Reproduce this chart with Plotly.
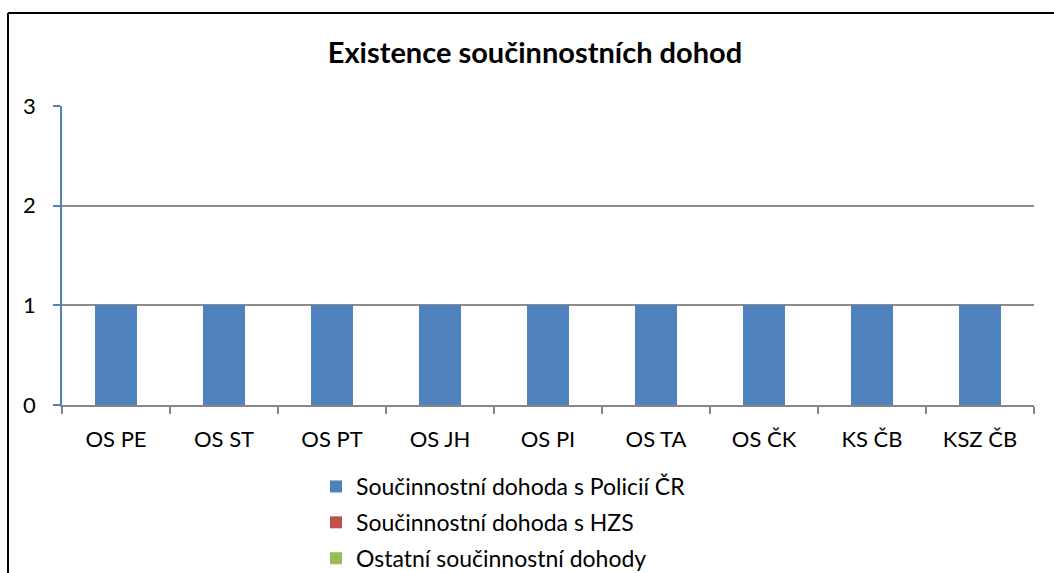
import plotly.graph_objects as go

categories = ["OS PE", "OS ST", "OS PT", "OS JH", "OS PI", "OS TA", "OS ČK", "KS ČB", "KSZ ČB"]
policie = [1, 1, 1, 1, 1, 1, 1, 1, 1]
hzs = [0, 0, 0, 0, 0, 0, 0, 0, 0]
ostatni = [0, 0, 0, 0, 0, 0, 0, 0, 0]
series_names = ["Součinnostní dohoda s Policií ČR", "Součinnostní dohoda s HZS", "Ostatní součinnostní dohody"]
colors = ["#4F81BD", "#C0504D", "#9BBB59"]
y_ticks = [0, 1, 2, 3]

FONT = "Lato"
W, H = 1054, 573
L, R, T, B = 62, 20, 106, 168
pw = W - L - R
ph = H - T - B

fig = go.Figure()
for i, (name, vals) in enumerate(zip(series_names, [policie, hzs, ostatni])):
    fig.add_trace(go.Bar(
        x=categories, y=vals, name=name, width=0.39,
        marker=dict(color=colors[i], line=dict(width=0)),
        legendgroup=f"g{i}",
    ))

fig.update_layout(
    width=W, height=H,
    margin=dict(l=L, r=R, t=T, b=B, autoexpand=False),
    paper_bgcolor="white", plot_bgcolor="white",
    barmode="overlay",
    font=dict(family=FONT, size=22, color="black"),
    title=dict(text="<b>Existence součinnostních dohod</b>", x=535 / W, xref="container", xanchor="center",
               y=1 - 53 / H, yref="container", yanchor="middle", font=dict(family=FONT, size=29, color="black")),
    showlegend=True,
    legend=dict(orientation="v", x=316 / W, xref="container", xanchor="left",
                y=1 - 465 / H, yref="container", yanchor="top",
                font=dict(family=FONT, size=23), tracegroupgap=3, itemwidth=30, bgcolor="rgba(0,0,0,0)"),
    bargap=0,
)
fig.update_xaxes(
    showline=True, linecolor="#868686", linewidth=1.5,
    ticks="outside", tickson="boundaries", ticklen=7, tickcolor="#868686", tickwidth=1.5,
    showgrid=False, ticklabelstandoff=14, tickfont=dict(family=FONT, size=22),
)
fig.update_yaxes(
    range=[0, 3], tickvals=y_ticks, showline=True, linecolor="#4F81BD", linewidth=1.5,
    ticks="outside", ticklen=7, tickcolor="#4F81BD", tickwidth=1.5,
    showgrid=True, gridcolor="#8C8C8C", gridwidth=1.5, zeroline=False,
    ticklabelstandoff=13, tickfont=dict(family=FONT, size=22),
)
# outer chart border (left and top visible, rest cropped)
fig.add_shape(type="line", xref="paper", yref="paper",
              x0=(8 - L) / pw, x1=(8 - L) / pw, y0=(405 - 13) / ph, y1=(405 - 600) / ph,
              line=dict(color="black", width=2))
fig.add_shape(type="line", xref="paper", yref="paper",
              x0=(8 - L) / pw, x1=(1060 - L) / pw, y0=(405 - 13) / ph, y1=(405 - 13) / ph,
              line=dict(color="black", width=2))

fig.write_html("out.html", post_script="document.body.style.margin='0';",
               config={"displayModeBar": False})
